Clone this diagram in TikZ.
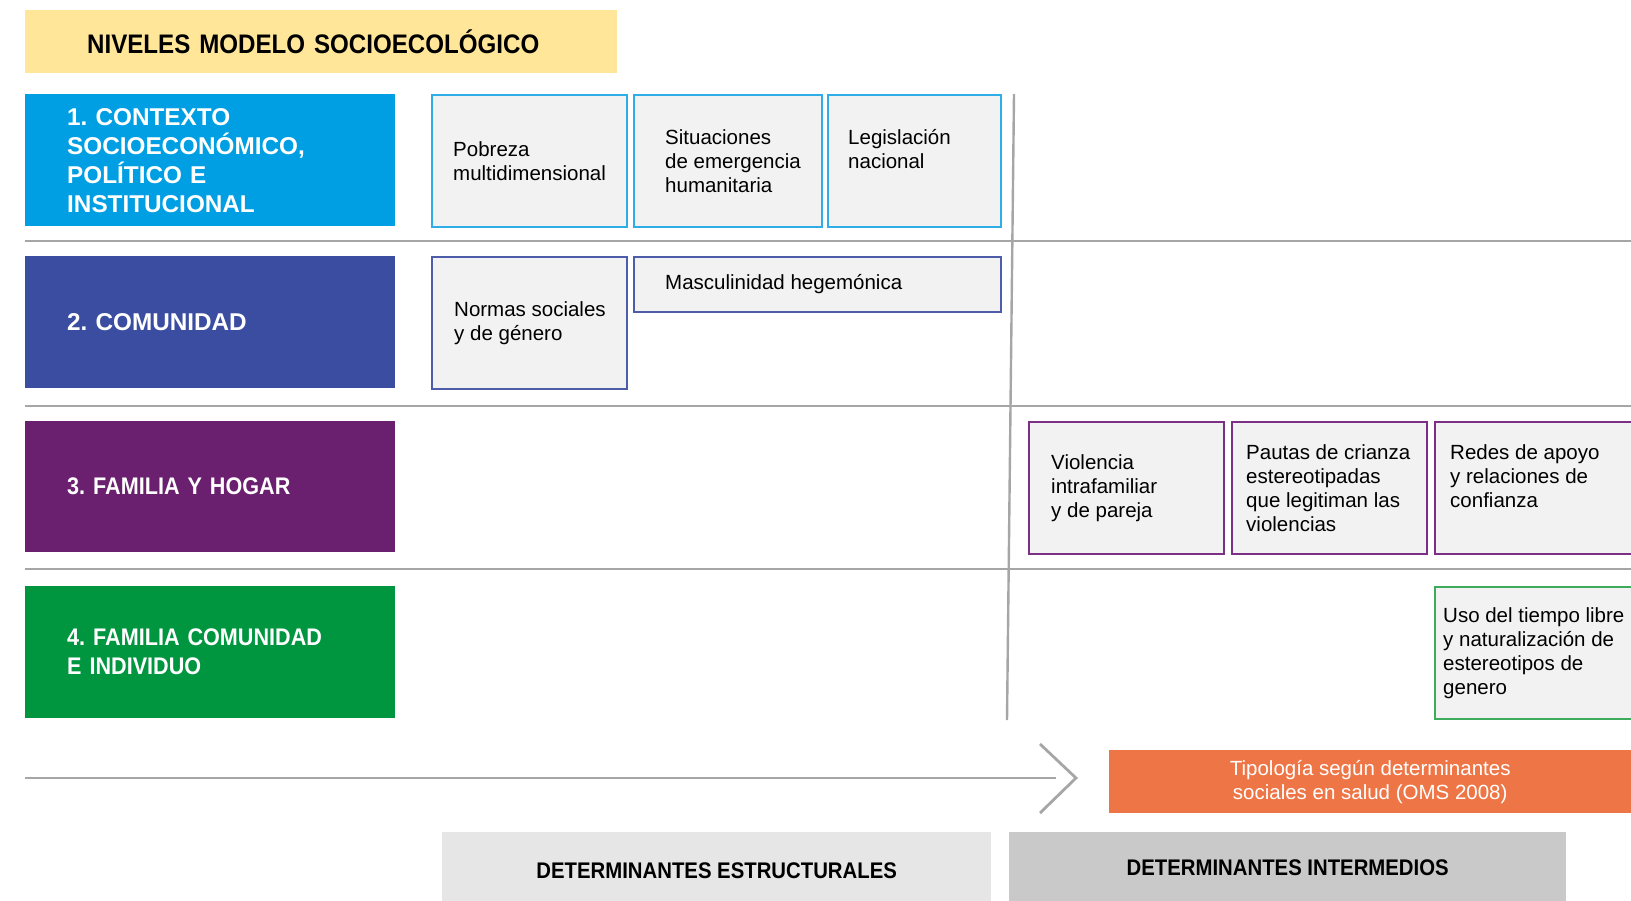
\documentclass[tikz,border=0pt]{standalone}
\usepackage{fontspec}
\setmainfont{Liberation Sans}
\newfontfamily\narrowsans[FakeStretch=0.9]{Liberation Sans}
\usetikzlibrary{positioning}
\definecolor{titleyellow}{HTML}{FFE699}
\definecolor{lvlone}{HTML}{009FE3}
\definecolor{lvltwo}{HTML}{3A4DA0}
\definecolor{lvlthree}{HTML}{6A1F6F}
\definecolor{lvlfour}{HTML}{00963F}
\definecolor{bordone}{HTML}{2EADE6}
\definecolor{bordtwo}{HTML}{4E5DAA}
\definecolor{bordthree}{HTML}{7D2F85}
\definecolor{bordfour}{HTML}{3DAA5C}
\definecolor{cellgray}{HTML}{F2F2F2}
\definecolor{rulegray}{HTML}{A6A6A6}
\definecolor{tipo}{HTML}{EE7646}
\definecolor{detlight}{HTML}{E6E6E6}
\definecolor{detdark}{HTML}{C9C9C9}
\frenchspacing
\newcommand\cellfont{\fontsize{20.5}{24}\selectfont}
\newcommand\lvlfont{\fontsize{24.3}{29}\selectfont\bfseries}
\newcommand\narrowfont{\narrowsans\bfseries\fontsize{24}{29}\selectfont}
\newcommand\detfont{\narrowsans\bfseries\fontsize{22.6}{27}\selectfont}
\tikzset{lvlbox/.style={fill=#1, text=white, anchor=north west, minimum width=370,
		minimum height=132, text width=286, inner xsep=42, inner ysep=0pt, align=left}}
\tikzset{cellbox/.style={draw=#1, line width=1.6pt, fill=cellgray, anchor=north west}}
\tikzset{celltext/.style={align=left, inner sep=0pt, font=\cellfont}}
\tikzset{gridline/.style={draw=rulegray, line width=2.8pt}}

\begin{document}
\begin{tikzpicture}[x=1pt,y=1pt]
		\useasboundingbox (0,0) rectangle (1631,-900);
		
		% rejilla
		\draw[gridline] (25,-241) -- (1631,-241);
		\draw[gridline] (25,-406) -- (1631,-406);
		\draw[gridline] (25,-569) -- (1631,-569);
		\draw[gridline, line width=2.4pt] (1014,-94) -- (1007,-720);
		
		\node[fill=titleyellow, anchor=north west, minimum width=592, minimum height=63,
			text width=468, inner xsep=62, font=\narrowsans\bfseries\fontsize{26.8}{32}\selectfont]
			(titulo) at (25,-10) {NIVELES MODELO SOCIOECOLÓGICO};
		
		% niveles
		\node[lvlbox=lvlone, font=\lvlfont] (contexto) at (25,-94)
			{1. CONTEXTO\\SOCIOECONÓMICO,\\POLÍTICO E\\INSTITUCIONAL};
		\node[lvlbox=lvltwo, font=\lvlfont] (comunidad) at (25,-256) {2. COMUNIDAD};
		\node[lvlbox=lvlthree, font=\narrowfont, minimum height=131] (familia) at (25,-421)
			{3. FAMILIA Y HOGAR};
		\node[lvlbox=lvlfour, font=\narrowfont] (individuo) at (25,-586)
			{4. FAMILIA COMUNIDAD\\E INDIVIDUO};
		
		% nivel 1
		\node[cellbox=bordone, minimum width=195, minimum height=132] (pobreza) at (431,-94) {};
		\node[cellbox=bordone, minimum width=188, minimum height=132] (emergencia) at (633,-94) {};
		\node[cellbox=bordone, minimum width=173, minimum height=132] (legislacion) at (827,-94) {};
		\node[celltext, right=22pt of pobreza.west] (pobrezatxt) {Pobreza\\multidimensional};
		\node[celltext, right=32pt of emergencia.west] (emergenciatxt)
			{Situaciones\\de emergencia\\humanitaria};
		\node[celltext, right=21pt of legislacion.west] (legislaciontxt) {Legislación\\nacional\\\mbox{}};
		
		% nivel 2
		\node[cellbox=bordtwo, minimum width=195, minimum height=132] (normas) at (431,-256) {};
		\node[cellbox=bordtwo, minimum width=367, minimum height=55] (masculinidad) at (633,-256) {};
		\node[celltext, right=23pt of normas.west] (normastxt) {Normas sociales\\y de género};
		\node[celltext, right=32pt of masculinidad.west] (masculinidadtxt) {Masculinidad hegemónica};
		
		% nivel 3
		\node[cellbox=bordthree, minimum width=195, minimum height=132] (violencia) at (1028,-421) {};
		\node[cellbox=bordthree, minimum width=195, minimum height=132] (pautas) at (1231,-421) {};
		\node[cellbox=bordthree, minimum width=197, minimum height=132] (redes) at (1434,-421) {};
		\node[celltext, right=23pt of violencia.west] (violenciatxt)
			{Violencia\\intrafamiliar\\y de pareja};
		\node[celltext, right=15pt of pautas.west] (pautastxt)
			{Pautas de crianza\\estereotipadas\\que legitiman las\\violencias};
		\node[celltext, right=16pt of redes.west] (redestxt)
			{Redes de apoyo\\y relaciones de\\confianza\\\mbox{}};
		
		% nivel 4
		\node[cellbox=bordfour, minimum width=197, minimum height=132] (tiempo) at (1434,-586) {};
		\node[celltext, right=9pt of tiempo.west] (tiempotxt)
			{Uso del tiempo libre\\y naturalización de\\estereotipos de\\genero};
		
		% flecha
		\coordinate (inicio) at (25,-778);
		\coordinate (punta) at (1076,-778);
		\draw[gridline] (inicio) -- (1056,-778);
		\draw[gridline] (1040,-744) -- (punta) -- (1040,-813);
		
		\node[fill=tipo, text=white, font=\cellfont, align=center, anchor=north west,
			minimum width=522, minimum height=63] (tipologia) at (1109,-750)
			{Tipología según determinantes\\sociales en salud (OMS 2008)};
		
		\node[fill=detlight, anchor=north west, minimum width=549, minimum height=78, font=\detfont]
			(estructurales) at (442,-832) {DETERMINANTES ESTRUCTURALES};
		\node[fill=detdark, anchor=north west, minimum width=557, minimum height=72, font=\detfont]
			(intermedios) at (1009,-832) {DETERMINANTES INTERMEDIOS};
		
	\end{tikzpicture}
\end{document}
